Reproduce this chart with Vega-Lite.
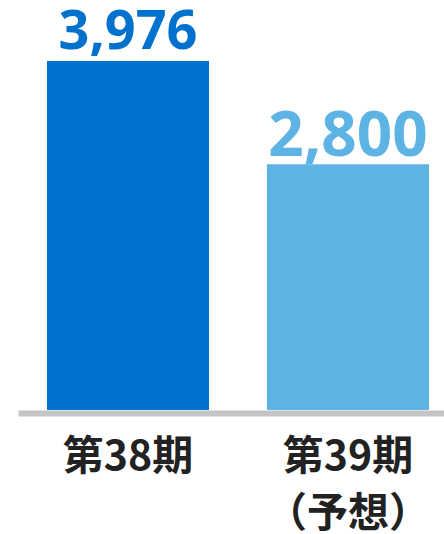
{
  "$schema": "https://vega.github.io/schema/vega-lite/v6.json",
  "width": 426,
  "height": 410,
  "autosize": {"type": "none"},
  "padding": {"left": 18, "top": 0, "right": 0, "bottom": 124},
  "background": "white",
  "config": {"view": {"stroke": null}},
  "data": {
    "values": [
      {"period": "第38期", "value": 3976},
      {"period": "第39期\n（予想）", "value": 2800}
    ]
  },
  "encoding": {
    "x": {
      "field": "period",
      "type": "nominal",
      "sort": null,
      "scale": {"paddingInner": 0.2636, "paddingOuter": 0.1, "align": 0.659},
      "axis": {
        "title": null,
        "domainColor": "#C4C4C4",
        "domainWidth": 6,
        "offset": 3,
        "ticks": false,
        "labelAngle": 0,
        "labelFont": "Noto Sans CJK JP",
        "labelFontSize": 41,
        "labelFontWeight": "bold",
        "labelColor": "#222222",
        "labelPadding": 24,
        "labelBaseline": "top",
        "labelLineHeight": 57,
        "labelExpr": "split(datum.label, '\\n')"
      }
    },
    "y": {
      "field": "value",
      "type": "quantitative",
      "scale": {"domain": [0, 4670], "nice": false},
      "axis": null
    }
  },
  "layer": [
    {
      "mark": {"type": "bar"},
      "encoding": {
        "color": {
          "field": "period",
          "type": "nominal",
          "sort": null,
          "scale": {"range": ["#0072CE", "#5DB3E4"]},
          "legend": null
        }
      }
    },
    {
      "transform": [{"filter": "datum.value > 3000"}],
      "mark": {"type": "text", "font": "Noto Sans", "fontWeight": "bold", "fontSize": 54, "baseline": "alphabetic", "dy": -12, "color": "#0072CE"},
      "encoding": {"text": {"field": "value", "type": "quantitative", "format": ",d"}}
    },
    {
      "transform": [{"filter": "datum.value < 3000"}],
      "mark": {"type": "text", "font": "Noto Sans", "fontWeight": "bold", "fontSize": 62, "baseline": "alphabetic", "dy": -8, "color": "#5DB3E4"},
      "encoding": {"text": {"field": "value", "type": "quantitative", "format": ",d"}}
    }
  ]
}
